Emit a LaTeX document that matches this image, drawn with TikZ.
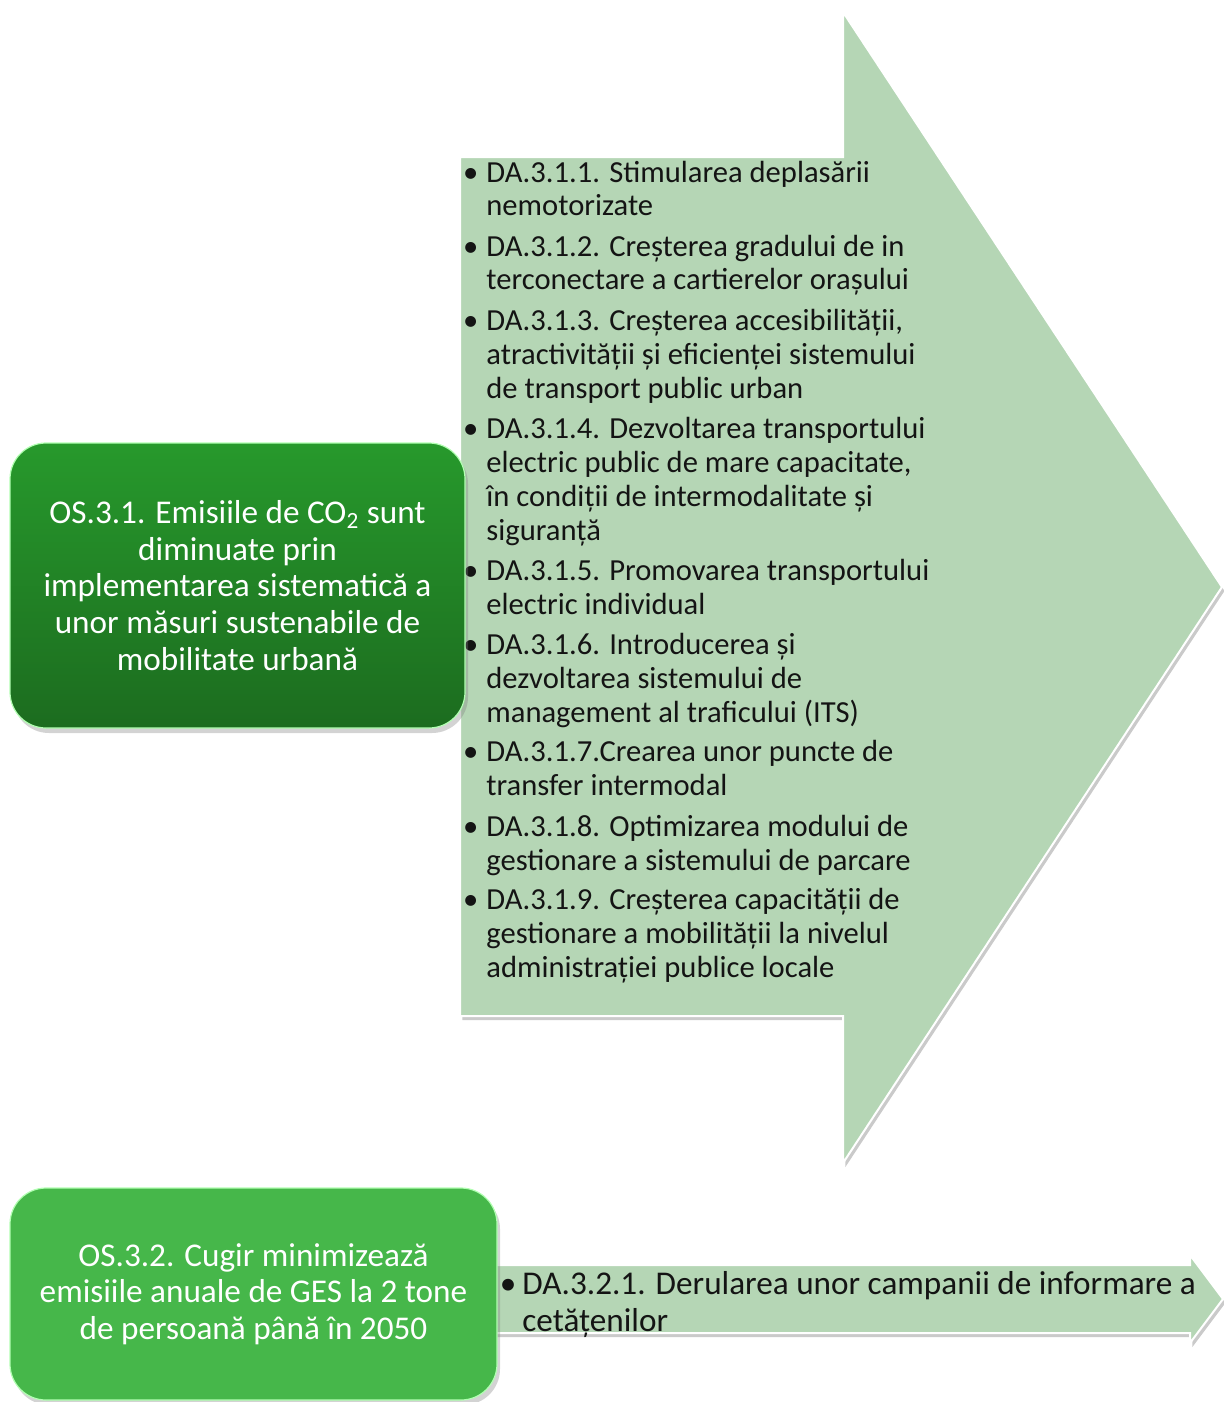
\documentclass[tikz,border=0pt]{standalone}
\usepackage{fontspec}
\setmainfont{Carlito}
\usetikzlibrary{shadows}
\definecolor{arrowfill}{HTML}{B5D6B5}
\definecolor{boxtop}{HTML}{27992C}
\definecolor{boxbot}{HTML}{1C6C1F}
\definecolor{boxtwo}{HTML}{46B74A}
\definecolor{textdark}{HTML}{141414}
\begin{document}
\begin{tikzpicture}[x=0.5pt,y=-0.5pt,
  arrowshape/.style={fill=arrowfill, draw=white, line width=1pt,
     drop shadow={shadow xshift=1.2pt, shadow yshift=-2pt, opacity=0.35, fill=black!60}},
  osbox/.style={rounded corners=18pt, draw=white!70!green, line width=0.6pt, inner sep=0pt,
     align=center, text=white, font=\fontsize{16.6pt}{18.3pt}\selectfont,
     drop shadow={shadow xshift=1.5pt, shadow yshift=-2.5pt, opacity=0.35}},
  item/.style={anchor=base west, inner sep=0pt, text=textdark,
     font=\fontsize{15.3pt}{17pt}\selectfont},
  itembig/.style={anchor=base west, inner sep=0pt, text=textdark,
     font=\fontsize{16.6pt}{18.5pt}\selectfont}
]
\useasboundingbox (0,0) rectangle (1224,1402);
% big arrow
\path[arrowshape] (460,157) -- (843,157) -- (843,12) -- (1222,587) -- (843,1163)
  -- (843,1016) -- (460,1016) -- cycle;
% small arrow
\path[arrowshape] (480,1265) -- (1190,1265) -- (1190,1255) -- (1223,1299) -- (1190,1343)
  -- (1190,1333) -- (480,1333) -- cycle;
% items
\newcommand{\bl}{\leavevmode\llap{\textbullet\hspace{4pt}}}
\node[item] (d1) at (486,182) {\parbox[t]{260pt}{\raggedright\bl DA.3.1.1. Stimularea deplasării\\nemotorizate}};
\node[item] (d2) at (486,256) {\parbox[t]{260pt}{\raggedright\bl DA.3.1.2. Creșterea gradului de in\\terconectare a cartierelor orașului}};
\node[item] (d3) at (486,330) {\parbox[t]{260pt}{\raggedright\bl DA.3.1.3. Creșterea accesibilității,\\atractivității și eficienței sistemului\\de transport public urban}};
\node[item] (d4) at (486,438) {\parbox[t]{260pt}{\raggedright\bl DA.3.1.4. Dezvoltarea transportului\\electric public de mare capacitate,\\în condiții de intermodalitate și\\siguranță}};
\node[item] (d5) at (486,580) {\parbox[t]{260pt}{\raggedright\bl DA.3.1.5. Promovarea transportului\\electric individual}};
\node[item] (d6) at (486,654) {\parbox[t]{260pt}{\raggedright\bl DA.3.1.6. Introducerea și\\dezvoltarea sistemului de\\management al traficului (ITS)}};
\node[item] (d7) at (486,761) {\parbox[t]{260pt}{\raggedright\bl DA.3.1.7.Crearea unor puncte de\\transfer intermodal}};
\node[item] (d8) at (486,836) {\parbox[t]{260pt}{\raggedright\bl DA.3.1.8. Optimizarea modului de\\gestionare a sistemului de parcare}};
\node[item] (d9) at (486,909) {\parbox[t]{260pt}{\raggedright\bl DA.3.1.9. Creșterea capacității de\\gestionare a mobilității la nivelul\\administrației publice locale}};
\node[itembig] (e1) at (522,1294) {\parbox[t]{360pt}{\raggedright\leavevmode\llap{\textbullet\hspace{3pt}}DA.3.2.1. Derularea unor campanii de informare a\\cetățenilor}};
% objective boxes
\node[osbox, top color=boxtop, bottom color=boxbot, minimum width=227.5pt, minimum height=142.5pt]
  (os1) at (237.5,585.5) {OS.3.1. Emisiile de CO\textsubscript{2} sunt\\diminuate prin\\implementarea sistematică a\\unor măsuri sustenabile de\\mobilitate urbană};
\node[osbox, fill=boxtwo, minimum width=243.5pt, minimum height=106pt]
  (os2) at (253.5,1294) {OS.3.2. Cugir minimizează\\emisiile anuale de GES la 2 tone\\de persoană până în 2050};
\end{tikzpicture}
\end{document}
